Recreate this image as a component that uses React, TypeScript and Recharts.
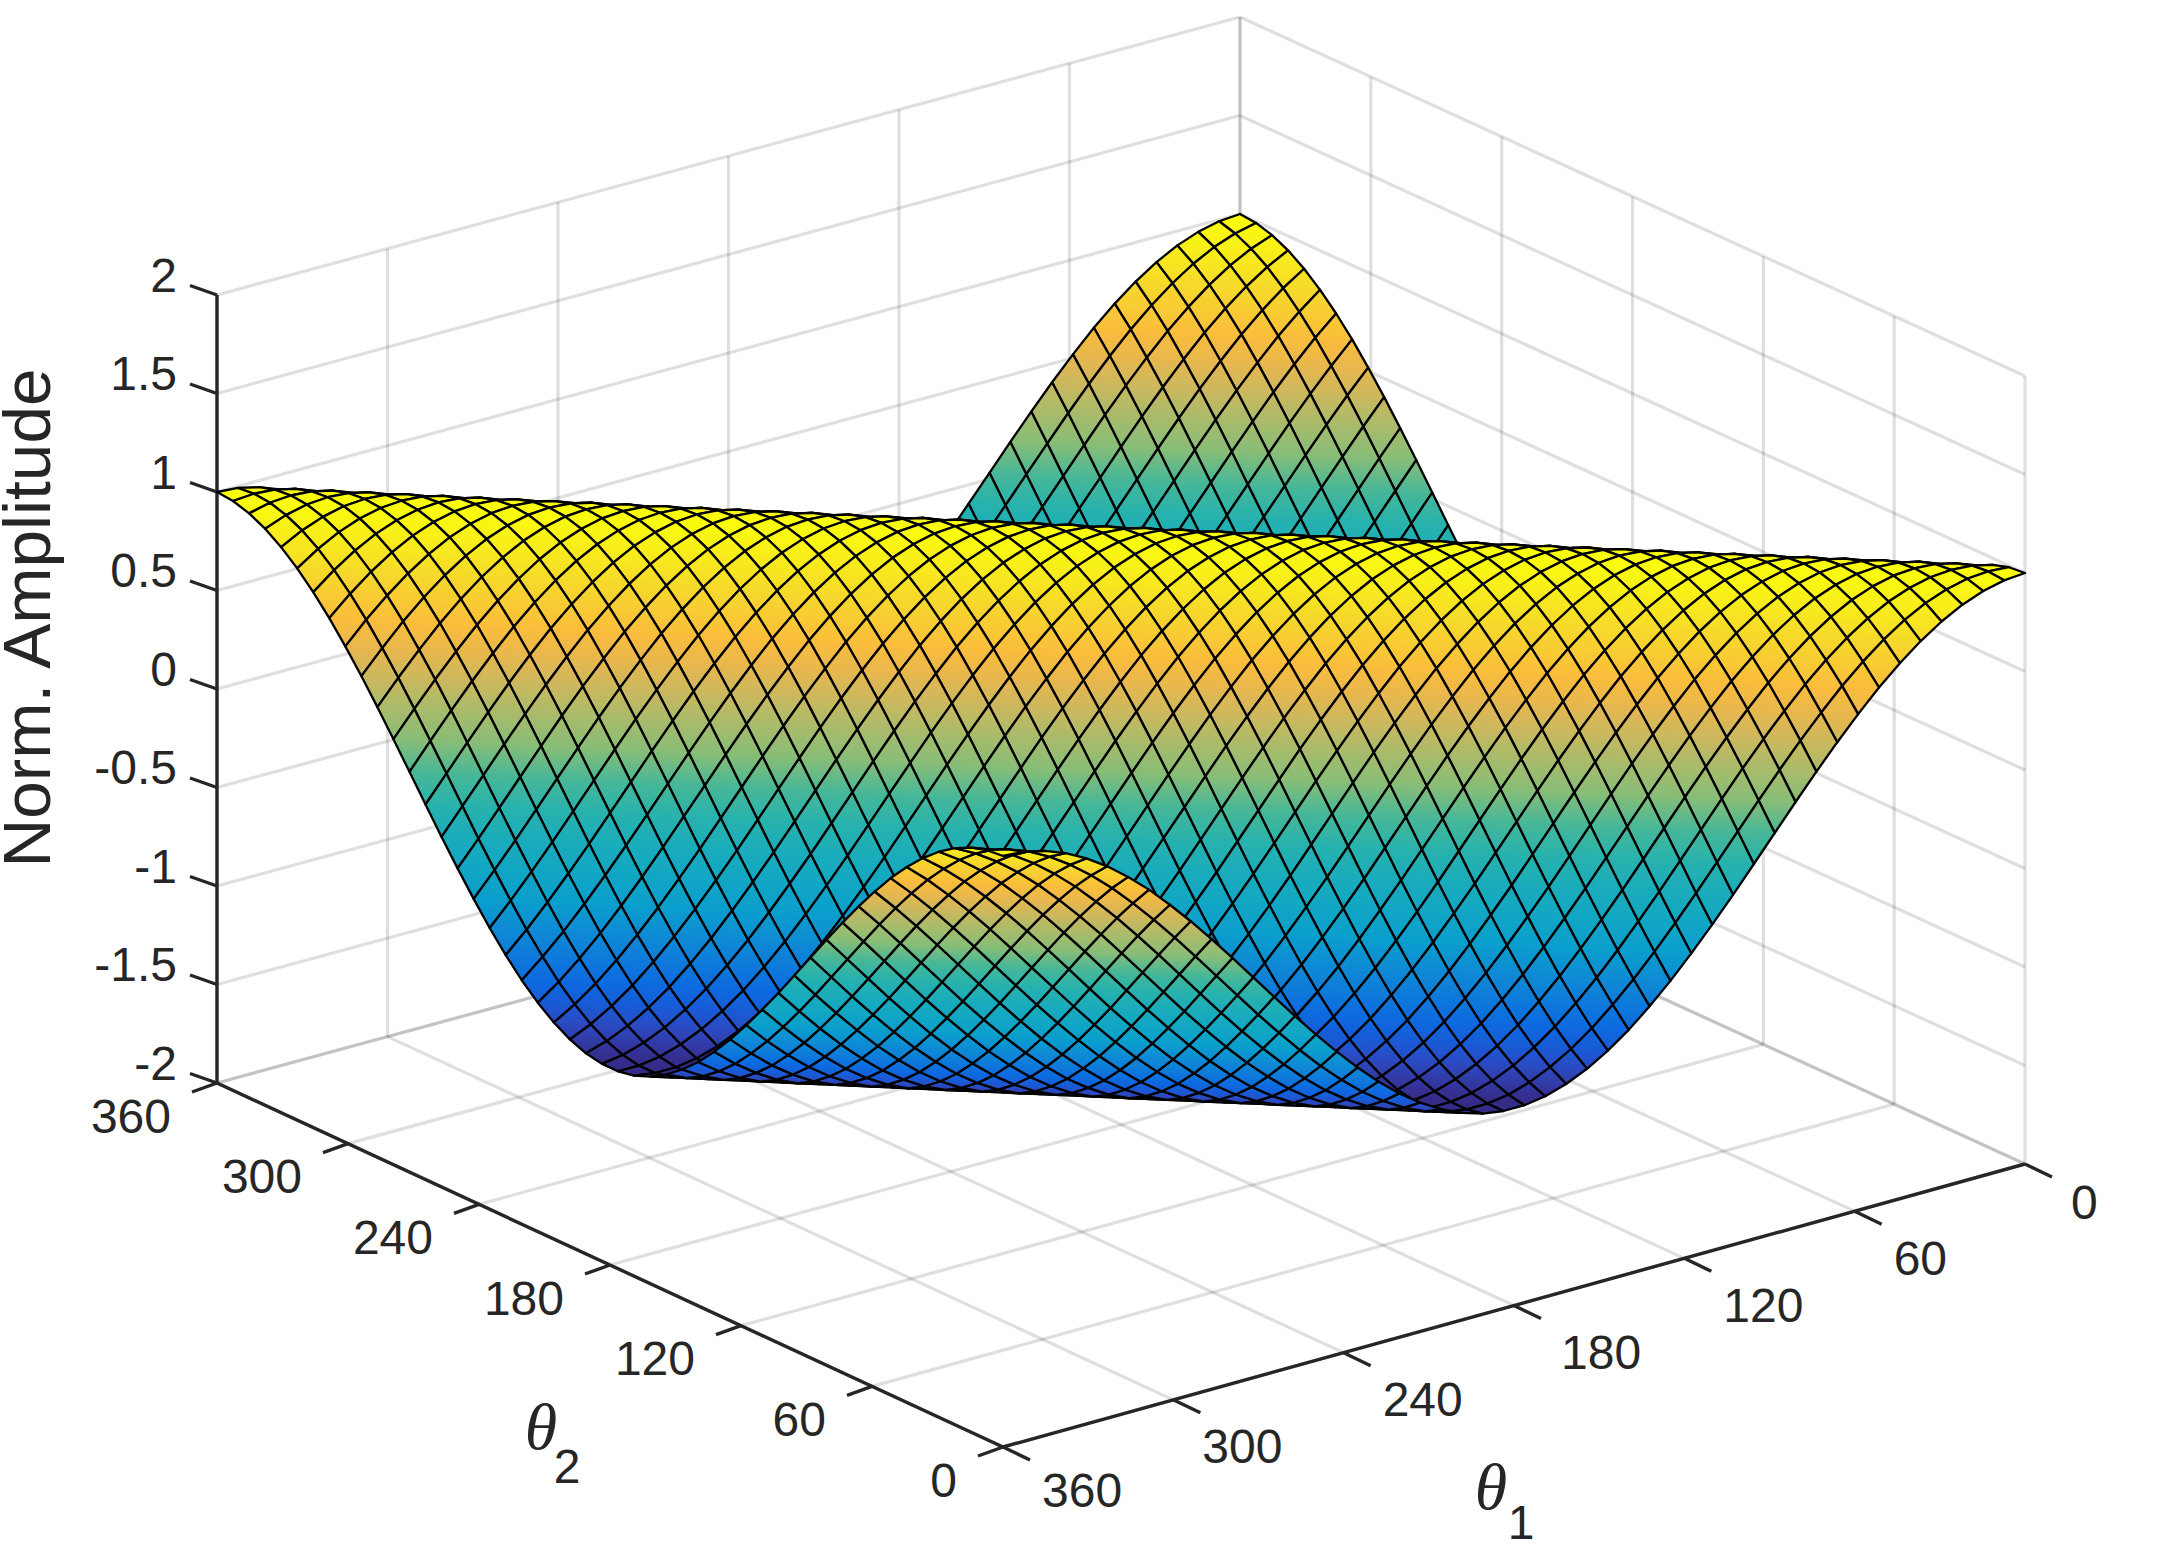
import React from 'react';
import { ComposedChart, Scatter, XAxis, YAxis, ReferenceLine } from 'recharts';

const theta1Ticks = [0, 60, 120, 180, 240, 300, 360];
const theta2Ticks = [0, 60, 120, 180, 240, 300, 360];
const amplitudeTicks = [-2, -1.5, -1, -0.5, 0, 0.5, 1, 1.5, 2];
const amplitudeTickLabels = ['-2', '-1.5', '-1', '-0.5', '0', '0.5', '1', '1.5', '2'];

// sample positions of the mesh, same on both angle axes (50 points)
const meshAngles = [
  0, 7.35, 14.69, 22.04, 29.39, 36.73, 44.08, 51.43, 58.78, 66.12, 73.47, 80.82, 88.16, 95.51,
  102.86, 110.2, 117.55, 124.9, 132.24, 139.59, 146.94, 154.29, 161.63, 168.98, 176.33, 183.67,
  191.02, 198.37, 205.71, 213.06, 220.41, 227.76, 235.1, 242.45, 249.8, 257.14, 264.49, 271.84,
  279.18, 286.53, 293.88, 301.22, 308.57, 315.92, 323.27, 330.61, 337.96, 345.31, 352.65, 360
];

// amplitude read along the surface, by how many mesh steps theta1 and theta2 are apart
const amplitudeBySteps = [
  1, 0.992, 0.967, 0.927, 0.871, 0.801, 0.718, 0.624, 0.518, 0.405, 0.285, 0.16, 0.032, -0.096,
  -0.223, -0.345, -0.462, -0.572, -0.672, -0.762, -0.838, -0.901, -0.949, -0.982, -0.998, -0.998,
  -0.982, -0.949, -0.901, -0.838, -0.762, -0.672, -0.572, -0.462, -0.345, -0.223, -0.096, 0.032,
  0.16, 0.285, 0.405, 0.518, 0.624, 0.718, 0.801, 0.871, 0.927, 0.967, 0.992, 1
];

const colorLevels = [-1, -0.92, -0.8, -0.6, -0.45, -0.15, 0, 0.15, 0.33, 0.45, 0.6, 0.8, 1];
const colorRamp = [
  [53, 42, 135], [47, 70, 189], [13, 100, 226], [15, 134, 214], [10, 160, 204], [31, 176, 181],
  [56, 181, 160], [132, 189, 120], [180, 186, 102], [217, 182, 89], [251, 185, 62], [246, 217, 43],
  [249, 251, 14]
];

const WIDTH = 2178;
const HEIGHT = 1553;
const INK = '#262626';

// floor corners of the 3D axes on the chart plane; the front one sits a little
// lower than a pure parallelogram would put it
const CORNER_BACK = { x: 1240, y: 805 };
const CORNER_LEFT = { x: 217, y: 1083 };
const CORNER_RIGHT = { x: 2025, y: 1164 };
const CORNER_FRONT = { x: 1003, y: 1447 };
const UNITS_PER_AMPLITUDE = 197;

const project = (t1: number, t2: number, z: number) => {
  const u = t1 / 360;
  const v = (360 - t2) / 360;
  const mix = (k: 'x' | 'y') =>
    CORNER_BACK[k] * (1 - u) * (1 - v) +
    CORNER_LEFT[k] * u * (1 - v) +
    CORNER_RIGHT[k] * (1 - u) * v +
    CORNER_FRONT[k] * u * v;
  return { x: mix('x'), y: mix('y') - (z + 2) * UNITS_PER_AMPLITUDE };
};

const colorOf = (z: number) => {
  let i = 0;
  while (i < colorLevels.length - 2 && z > colorLevels[i + 1]) i++;
  const f = Math.max(0, Math.min(1, (z - colorLevels[i]) / (colorLevels[i + 1] - colorLevels[i])));
  const a = colorRamp[i];
  const b = colorRamp[i + 1];
  return `rgb(${a.map((v, k) => Math.round(v + (b[k] - v) * f)).join(',')})`;
};

const amp = (i: number, j: number) => amplitudeBySteps[Math.abs(i - j)];

interface Facet {
  x: number;
  y: number;
  id: string;
  zA: number;
  zB: number;
  zC: number;
  // offsets of the corners from the facet centre
  a: { x: number; y: number };
  b: { x: number; y: number };
  c: { x: number; y: number };
  d: { x: number; y: number };
}

// far to near: theta2 from 360 down, theta1 from 0 up
const facets: Facet[] = [];
for (let j = meshAngles.length - 2; j >= 0; j--) {
  for (let i = 0; i < meshAngles.length - 1; i++) {
    const a = project(meshAngles[i], meshAngles[j], amp(i, j));
    const b = project(meshAngles[i + 1], meshAngles[j], amp(i + 1, j));
    const c = project(meshAngles[i], meshAngles[j + 1], amp(i, j + 1));
    const d = project(meshAngles[i + 1], meshAngles[j + 1], amp(i + 1, j + 1));
    const x = (a.x + b.x + c.x + d.x) / 4;
    const y = (a.y + b.y + c.y + d.y) / 4;
    const rel = (p: { x: number; y: number }) => ({ x: p.x - x, y: p.y - y });
    facets.push({
      x,
      y,
      id: `facet-${i}-${j}`,
      zA: amp(i, j),
      zB: amp(i + 1, j),
      zC: amp(i, j + 1),
      a: rel(a),
      b: rel(b),
      c: rel(c),
      d: rel(d)
    });
  }
}

const FacetShape = (props: any) => {
  const { cx, cy, payload } = props;
  const { a, b, c, d, id, zA, zB, zC } = payload as Facet;
  // a and d sit at the same height, so the colour runs square to that diagonal
  const ax = d.x - a.x;
  const ay = d.y - a.y;
  const len = Math.hypot(ax, ay) || 1;
  const nx = -ay / len;
  const ny = ax / len;
  const t = (c.x - b.x) * nx + (c.y - b.y) * ny;
  const pts = [a, b, d, c].map((p) => `${cx + p.x},${cy + p.y}`).join(' ');
  return (
    <g>
      <defs>
        <linearGradient
          id={id}
          gradientUnits="userSpaceOnUse"
          x1={cx + b.x}
          y1={cy + b.y}
          x2={cx + b.x + nx * t}
          y2={cy + b.y + ny * t}
        >
          <stop offset="0" stopColor={colorOf(zB)} />
          <stop offset="0.5" stopColor={colorOf(zA)} />
          <stop offset="1" stopColor={colorOf(zC)} />
        </linearGradient>
      </defs>
      <polygon points={pts} fill={`url(#${id})`} stroke="#000" strokeWidth={2.3} strokeLinejoin="round" />
    </g>
  );
};

const TextShape = (props: any) => {
  const { cx, cy, payload } = props;
  return (
    <text
      x={cx}
      y={cy}
      fill={INK}
      fontFamily={payload.serif ? '"Liberation Serif", serif' : '"Liberation Sans", Arial, sans-serif'}
      fontStyle={payload.serif ? 'italic' : 'normal'}
      fontSize={payload.size}
      textAnchor={payload.anchor}
      dominantBaseline="central"
      transform={payload.rotate ? `rotate(-90 ${cx} ${cy})` : undefined}
    >
      {payload.text}
    </text>
  );
};

const tickFont = 48;
// the theta1 labels do not sit evenly under their ticks in the original
const theta1LabelNudgeX = [7, 0, 0, 8, 0, -10, 0];
const theta1LabelNudgeY = [-9, 0, 0, 0, 0, 0, -4];
const textItems = [
  ...amplitudeTicks.map((z, k) => {
    const p = project(360, 360, z);
    return { x: p.x - 40, y: p.y - 20, text: amplitudeTickLabels[k], size: tickFont, anchor: 'end' };
  }),
  ...theta2Ticks.map((t) => {
    const p = project(360, t, -2);
    return { x: p.x - 46, y: p.y + 33, text: String(t), size: tickFont, anchor: 'end' };
  }),
  ...theta1Ticks.map((t, k) => {
    const p = project(t, 0, -2);
    return {
      x: p.x + 39 + theta1LabelNudgeX[k],
      y: p.y + 47 + theta1LabelNudgeY[k],
      text: String(t),
      size: tickFont,
      anchor: 'start'
    };
  }),
  { x: 26, y: 618, text: 'Norm. Amplitude', size: 67.5, anchor: 'middle', rotate: true },
  { x: 541, y: 1426, text: 'θ', size: 66, anchor: 'middle', serif: true },
  { x: 567, y: 1466, text: '2', size: 48, anchor: 'middle' },
  { x: 1491, y: 1486, text: 'θ', size: 66, anchor: 'middle', serif: true },
  { x: 1521, y: 1522, text: '1', size: 48, anchor: 'middle' }
];

type Seg = [{ x: number; y: number }, { x: number; y: number }];

const gridSegments: Seg[] = [
  // left wall
  ...theta1Ticks.map((t): Seg => [project(t, 360, -2), project(t, 360, 2)]),
  ...amplitudeTicks.map((z): Seg => [project(360, 360, z), project(0, 360, z)]),
  // right wall
  ...theta2Ticks.map((t): Seg => [project(0, t, -2), project(0, t, 2)]),
  ...amplitudeTicks.map((z): Seg => [project(0, 360, z), project(0, 0, z)]),
  // floor
  ...theta1Ticks.map((t): Seg => [project(t, 0, -2), project(t, 360, -2)]),
  ...theta2Ticks.map((t): Seg => [project(0, t, -2), project(360, t, -2)])
];

const withOffset = (p: { x: number; y: number }, dx: number, dy: number): Seg => [
  p,
  { x: p.x + dx, y: p.y + dy }
];

const axisSegments: Seg[] = [
  [project(360, 360, -2), project(360, 360, 2)],
  [project(360, 360, -2), project(360, 0, -2)],
  [project(360, 0, -2), project(0, 0, -2)],
  ...amplitudeTicks.map((z) => withOffset(project(360, 360, z), -27, -9.5)),
  ...theta2Ticks.map((t) => withOffset(project(360, t, -2), -25, 9)),
  ...theta1Ticks.map((t) => withOffset(project(t, 0, -2), 27, 13))
];

export default function App() {
  return (
    <div style={{ position: 'absolute', left: 0, top: 0, width: WIDTH, height: HEIGHT, background: '#fff' }}>
      <ComposedChart width={WIDTH} height={HEIGHT} margin={{ top: 0, right: 0, bottom: 0, left: 0 }} data={[]}>
        <XAxis type="number" dataKey="x" domain={[0, WIDTH]} hide allowDataOverflow />
        <YAxis type="number" dataKey="y" domain={[0, HEIGHT]} reversed hide allowDataOverflow />
        {gridSegments.map((s, k) => (
          <ReferenceLine key={`g${k}`} segment={s} stroke={INK} strokeOpacity={0.15} strokeWidth={3.2} />
        ))}
        {axisSegments.map((s, k) => (
          <ReferenceLine key={`a${k}`} segment={s} stroke={INK} strokeWidth={3.4} />
        ))}
        <Scatter data={facets} shape={FacetShape} isAnimationActive={false} />
        <Scatter data={textItems} shape={TextShape} isAnimationActive={false} />
      </ComposedChart>
    </div>
  );
}
